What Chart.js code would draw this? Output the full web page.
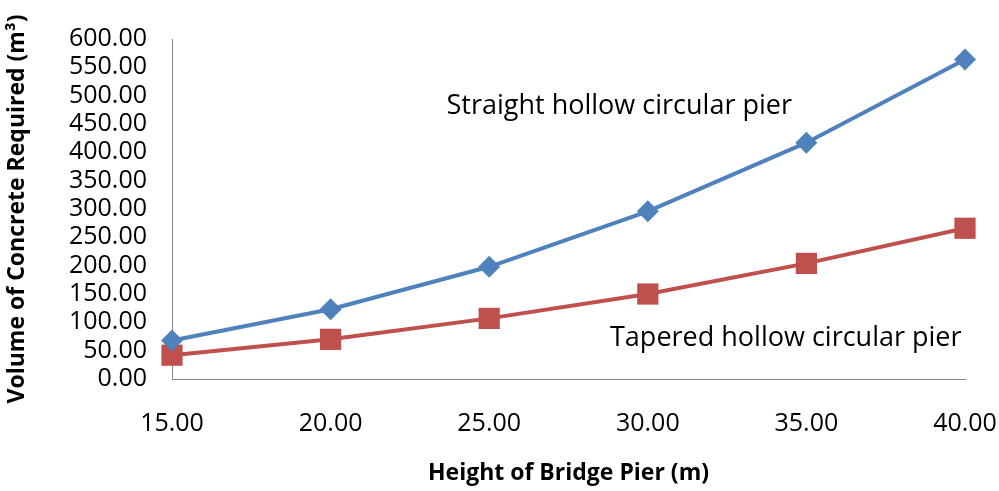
<!DOCTYPE html>
<html>
<head>
<meta charset="utf-8">
<script src="https://cdn.jsdelivr.net/npm/chart.js@4"></script>
<style>
  html, body { margin: 0; padding: 0; background: #fff; }
  #wrap { width: 999px; height: 491px; }
</style>
</head>
<body>
<div id="wrap"><canvas id="graph" width="999" height="491"></canvas></div>
<script>
// pier heights (m)
const heights = [15, 20, 25, 30, 35, 40];
// volume of concrete (m3)
const straightVolume = [68, 123, 198, 296, 417, 564];
const taperedVolume = [42, 70, 107, 150, 204, 266];

const straightLabel = 'Straight hollow circular pier';
const taperedLabel = 'Tapered hollow circular pier';
const xTitle = 'Height of Bridge Pier (m)';
const yTitle = 'Volume of Concrete Required (m\u00B3)';

// where the two text labels sit, in data units
const labelSpots = [
    { text: straightLabel, x: 29.1, y: 481 },
    { text: taperedLabel, x: 34.35, y: 72 }
];

function toPoints(values) {
    return heights.map(function(h, i) { return { x: h, y: values[i] }; });
}

const FONT = '"Open Sans", sans-serif';

// skriver tekstene inne i plottet
const seriesText = {
    id: 'seriesText',
    afterDatasetsDraw(chart) {
        const ctx = chart.ctx;
        ctx.save();
        ctx.font = '27px ' + FONT;
        ctx.fillStyle = '#000';
        ctx.textAlign = 'center';
        ctx.textBaseline = 'middle';
        for (const s of labelSpots) {
            ctx.fillText(s.text, chart.scales.x.getPixelForValue(s.x), chart.scales.y.getPixelForValue(s.y));
        }
        ctx.restore();
    }
};

const ctx = document.getElementById('graph').getContext('2d');
new Chart(ctx, {
    type: 'line',
    data: {
        datasets: [
            {
                label: straightLabel,
                data: toPoints(straightVolume),
                borderColor: '#4F81BD',
                backgroundColor: '#4F81BD',
                borderWidth: 4,
                pointStyle: 'rectRot',
                pointRadius: 11,
                pointBorderWidth: 0
            },
            {
                label: taperedLabel,
                data: toPoints(taperedVolume),
                borderColor: '#C0504D',
                backgroundColor: '#C0504D',
                borderWidth: 4,
                pointStyle: 'rect',
                pointRadius: 15,
                pointBorderWidth: 0
            }
        ]
    },
    options: {
        responsive: false,
        animation: false,
        clip: false,
        layout: { padding: { top: 39, right: 34, left: 0, bottom: 0 } },
        plugins: {
            legend: { display: false },
            tooltip: { enabled: false }
        },
        scales: {
            x: {
                type: 'linear',
                min: 15,
                max: 40,
                grid: { display: false, drawTicks: false },
                border: { display: true, color: '#868686', width: 1 },
                ticks: {
                    stepSize: 5,
                    padding: 30,
                    color: '#000',
                    font: { family: FONT, size: 25 },
                    callback: function(v) { return v.toFixed(2); }
                },
                title: {
                    display: true,
                    text: xTitle,
                    color: '#000',
                    font: { family: FONT, size: 23, weight: 'bold' },
                    padding: { top: 14 }
                },
                afterFit: function(scale) {
                    scale.height = 112;
                    scale.paddingLeft = 0;
                    scale.paddingRight = 0;
                }
            },
            y: {
                min: 0,
                max: 600,
                grid: { display: false, drawTicks: false },
                border: { display: true, color: '#868686', width: 1 },
                ticks: {
                    stepSize: 50,
                    autoSkip: false,
                    padding: 25,
                    color: '#000',
                    font: { family: FONT, size: 25 },
                    callback: function(v) { return v.toFixed(2); }
                },
                title: {
                    display: true,
                    text: yTitle,
                    color: '#000',
                    font: { family: FONT, size: 23, weight: 'bold' },
                    padding: { bottom: 4 }
                },
                afterFit: function(scale) {
                    scale.width = 172;
                    scale.paddingTop = 0;
                    scale.paddingBottom = 0;
                }
            }
        }
    },
    plugins: [seriesText]
});
</script>
</body>
</html>
